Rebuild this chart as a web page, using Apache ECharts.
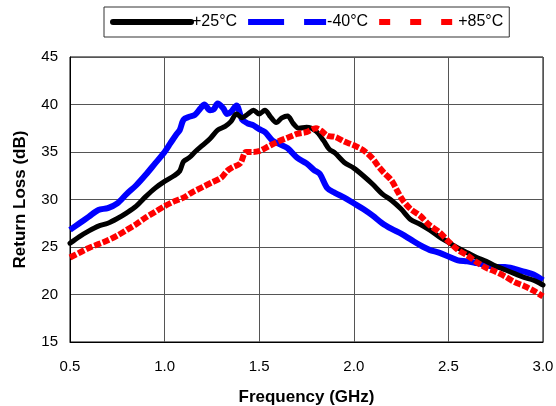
<!DOCTYPE html>
<html>
<head>
<meta charset="utf-8">
<style>
  html, body { margin: 0; padding: 0; background: #fff; }
  #chart { width: 556px; height: 406px; }
</style>
<script src="https://cdn.jsdelivr.net/npm/echarts@6/dist/echarts.min.js"></script>
</head>
<body>
<div id="chart"></div>
<script>
// Return loss vs frequency at three temperatures
const seriesNames = ['+25°C', '-40°C', '+85°C'];
const xTicks = [0.5, 1.0, 1.5, 2.0, 2.5, 3.0];
const yTicks = [15, 20, 25, 30, 35, 40, 45];

// +25°C : [frequency GHz, return loss dB]
const freq25 = [0.50,0.55,0.60,0.65,0.70,0.75,0.80,0.85,0.90,0.95,1.00,1.05,1.08,1.10,1.13,1.16,1.20,1.24,1.28,1.32,1.35,1.38,1.41,1.44,1.47,1.50,1.53,1.56,1.59,1.62,1.65,1.68,1.71,1.75,1.80,1.84,1.87,1.90,1.95,2.00,2.05,2.10,2.15,2.20,2.25,2.30,2.35,2.40,2.45,2.50,2.55,2.60,2.65,2.70,2.75,2.80,2.85,2.90,2.95,3.00];
const rl25 = [25.4,26.1,26.7,27.2,27.5,28.0,28.6,29.3,30.3,31.2,31.9,32.5,33.0,34.0,34.4,35.0,35.7,36.4,37.3,37.7,38.2,39.0,38.6,39.0,39.4,39.0,39.4,38.7,38.1,38.6,38.8,38.0,37.5,37.6,37.2,36.2,35.3,34.9,33.9,33.3,32.5,31.6,30.6,29.9,29.0,27.9,27.4,26.8,26.1,25.5,24.9,24.4,23.9,23.5,23.0,22.6,22.2,21.8,21.5,21.0];

// -40°C
const freqM40 = [0.50,0.55,0.60,0.65,0.70,0.75,0.80,0.85,0.90,0.95,1.00,1.03,1.06,1.08,1.10,1.13,1.16,1.19,1.21,1.24,1.26,1.28,1.31,1.33,1.35,1.38,1.41,1.44,1.47,1.50,1.53,1.57,1.61,1.65,1.70,1.75,1.79,1.82,1.86,1.90,1.95,2.00,2.05,2.10,2.15,2.20,2.25,2.30,2.35,2.40,2.45,2.50,2.55,2.60,2.65,2.70,2.75,2.80,2.85,2.90,2.95,3.00];
const rlM40 = [26.8,27.5,28.2,28.9,29.1,29.6,30.6,31.5,32.6,33.8,35.0,35.9,36.8,37.3,38.4,38.7,38.9,39.6,40.0,39.4,39.5,40.1,39.6,39.0,39.2,39.9,38.4,38.0,37.8,37.4,37.1,36.2,35.8,35.4,34.4,33.8,33.1,32.7,31.2,30.7,30.2,29.6,29.0,28.3,27.5,26.9,26.4,25.8,25.2,24.7,24.4,24.0,23.6,23.5,23.3,23.1,22.9,22.9,22.7,22.4,22.1,21.5];

// +85°C
const freq85 = [0.50,0.55,0.60,0.65,0.70,0.75,0.80,0.85,0.90,0.95,1.00,1.05,1.10,1.15,1.20,1.25,1.30,1.33,1.36,1.40,1.43,1.47,1.50,1.55,1.60,1.65,1.70,1.75,1.80,1.83,1.86,1.90,1.95,2.00,2.05,2.10,2.13,2.16,2.20,2.23,2.26,2.30,2.35,2.40,2.45,2.50,2.55,2.60,2.65,2.70,2.75,2.80,2.85,2.90,2.95,3.00];
const rl85 = [23.9,24.4,24.9,25.3,25.7,26.2,26.8,27.4,28.1,28.7,29.3,29.8,30.2,30.8,31.3,31.8,32.3,33.0,33.4,33.8,35.0,35.0,35.1,35.6,36.1,36.5,36.9,37.1,37.5,37.2,36.7,36.6,36.1,35.7,35.2,34.3,33.5,32.8,32.0,30.9,29.9,29.0,28.3,27.3,26.6,25.6,24.7,24.1,23.4,22.8,22.4,21.9,21.3,20.9,20.4,19.8];

const pairs = (xs, ys) => xs.map((x, i) => [x, ys[i]]);
const FONT = "'Liberation Sans', Arial, sans-serif";
// legend swatches show only the line, no marker
const hiddenMarker = { color: 'rgba(0,0,0,0)', borderWidth: 0, opacity: 0 };

const chart = echarts.init(document.getElementById('chart'), null, { renderer: 'canvas' });

chart.setOption({
  animation: false,
  backgroundColor: '#ffffff',
  textStyle: { fontFamily: FONT, color: '#000' },
  legend: {
    left: 104,
    top: 7,
    padding: [7, 6, 7, 6],
    borderColor: '#333',
    borderWidth: 1,
    itemWidth: 78,
    itemHeight: 16,
    itemGap: 8,
    textStyle: { fontFamily: FONT, fontSize: 16, color: '#000', padding: [0, 0, 0, -4] },
    data: [
      { name: seriesNames[0], itemStyle: hiddenMarker, lineStyle: { color: '#000', width: 6, type: 'solid', cap: 'round' } },
      { name: seriesNames[1], itemStyle: hiddenMarker, lineStyle: { color: '#0000ff', width: 6, type: [36, 20], cap: 'butt' } },
      { name: seriesNames[2], itemStyle: hiddenMarker, lineStyle: { color: '#ff0000', width: 6, type: [11, 20], cap: 'butt' } }
    ]
  },
  grid: {
    left: 70, right: 13, top: 57, bottom: 64,
    outerBoundsMode: 'none',
    containLabel: false,
    show: true, borderColor: '#000', borderWidth: 1
  },
  xAxis: {
    type: 'value',
    min: xTicks[0],
    max: xTicks[xTicks.length - 1],
    interval: 0.5,
    name: 'Frequency (GHz)',
    nameLocation: 'middle',
    nameGap: 47,
    nameTextStyle: { fontFamily: FONT, fontSize: 17, fontWeight: 'bold', color: '#000' },
    axisLine: { show: true, lineStyle: { color: '#000', width: 1 } },
    axisTick: { show: false },
    axisLabel: {
      margin: 17, fontSize: 15, color: '#000', fontFamily: FONT,
      formatter: v => v.toFixed(1)
    },
    splitLine: { show: true, lineStyle: { color: '#555', width: 1 } }
  },
  yAxis: {
    type: 'value',
    min: yTicks[0],
    max: yTicks[yTicks.length - 1],
    interval: 5,
    name: 'Return Loss (dB)',
    nameLocation: 'middle',
    nameGap: 41,
    nameRotate: 90,
    nameTextStyle: { fontFamily: FONT, fontSize: 17, fontWeight: 'bold', color: '#000' },
    axisLine: { show: true, lineStyle: { color: '#000', width: 1 } },
    axisTick: { show: false },
    axisLabel: { margin: 12, fontSize: 15, color: '#000', fontFamily: FONT },
    splitLine: { show: true, lineStyle: { color: '#555', width: 1 } }
  },
  series: [
    {
      name: seriesNames[0], type: 'line', data: pairs(freq25, rl25),
      symbol: 'none', smooth: 0.3, z: 3,
      lineStyle: { color: '#000', width: 5, cap: 'round', join: 'round' },
      itemStyle: { color: '#000' }
    },
    {
      name: seriesNames[1], type: 'line', data: pairs(freqM40, rlM40),
      symbol: 'none', smooth: 0.3, z: 2,
      lineStyle: { color: '#0000ff', width: 6, join: 'round' },
      itemStyle: { color: '#0000ff' }
    },
    {
      name: seriesNames[2], type: 'line', data: pairs(freq85, rl85),
      symbol: 'none', smooth: 0.3, z: 4,
      lineStyle: { color: '#ff0000', width: 6, type: [7, 2], cap: 'butt', join: 'miter' },
      itemStyle: { color: '#ff0000' }
    }
  ]
});
</script>
</body>
</html>
